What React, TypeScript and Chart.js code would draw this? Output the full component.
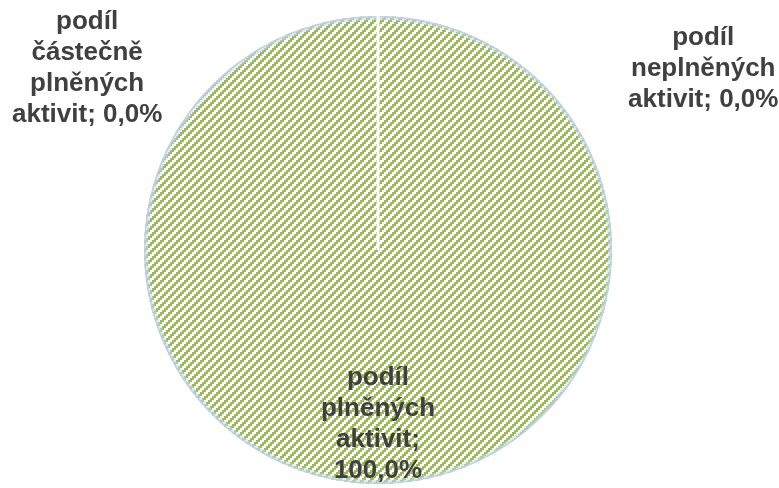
import React, { useEffect, useRef } from "react";
import { Chart, registerables } from "chart.js";

Chart.register(...registerables);

const categories = [
  "podíl plněných aktivit",
  "podíl částečně plněných aktivit",
  "podíl neplněných aktivit",
];
const values = [100, 0, 0];
const labelLines = [
  ["podíl", "plněných", "aktivit;", "100,0%"],
  ["podíl", "částečně", "plněných", "aktivit; 0,0%"],
  ["podíl", "neplněných", "aktivit; 0,0%"],
];

function makePattern(): CanvasPattern | string {
  const c = document.createElement("canvas");
  c.width = 8;
  c.height = 8;
  const g = c.getContext("2d");
  if (!g) return "#9BBB59";
  g.fillStyle = "#ffffff";
  g.fillRect(0, 0, 8, 8);
  g.fillStyle = "#9BBB59";
  for (let y = 0; y < 8; y++) {
    for (let x = 0; x < 8; x++) {
      if (((x >> 1) + (y >> 1)) % 4 < 2) g.fillRect(x, y, 1, 1);
    }
  }
  const p = g.createPattern(c, "repeat");
  return p || "#9BBB59";
}

const decorPlugin = {
  id: "decor",
  afterDatasetsDraw(chart: any) {
    const meta = chart.getDatasetMeta(0);
    const arc = meta.data[0];
    if (!arc) return;
    const { x, y, outerRadius: r } = arc.getProps(["x", "y", "outerRadius"], true);
    const ctx = chart.ctx;
    ctx.save();
    // outer soft edge
    ctx.strokeStyle = "rgba(200,216,236,0.55)";
    ctx.lineWidth = 4;
    ctx.beginPath();
    ctx.arc(x, y, r - 2, 0, Math.PI * 2);
    ctx.stroke();
    ctx.strokeStyle = "rgba(190,208,230,0.9)";
    ctx.lineWidth = 1.5;
    ctx.beginPath();
    ctx.arc(x, y, r - 0.75, 0, Math.PI * 2);
    ctx.stroke();
    // separator line at start angle
    ctx.strokeStyle = "#ffffff";
    ctx.lineWidth = 3;
    ctx.beginPath();
    ctx.moveTo(x, y);
    ctx.lineTo(x, y - r - 1);
    ctx.stroke();

    // labels
    ctx.font = "bold 26px 'Liberation Sans', Arial, sans-serif";
    ctx.fillStyle = "#404040";
    ctx.textAlign = "center";
    ctx.textBaseline = "middle";
    const lh = 31;
    const anchors = [
      { dx: 0, dy: 0.745 },
      { dx: -1.243, dy: -0.775 },
      { dx: 1.39, dy: -0.775 },
    ];
    labelLines.forEach((lines, i) => {
      const a = anchors[i];
      const cx = x + a.dx * r;
      const cy = y + a.dy * r;
      const top = cy - ((lines.length - 1) * lh) / 2;
      lines.forEach((t, j) => ctx.fillText(t, cx, top + j * lh));
    });
    ctx.restore();
  },
};

export default function App() {
  const ref = useRef<HTMLCanvasElement>(null);
  useEffect(() => {
    document.body.style.margin = "0";
    if (!ref.current) return;
    const pattern = makePattern();
    const chart = new Chart(ref.current, {
      type: "pie",
      data: {
        labels: categories,
        datasets: [
          {
            data: values,
            backgroundColor: [pattern, pattern, pattern],
            borderWidth: 0,
          },
        ],
      },
      options: {
        animation: false,
        responsive: false,
        layout: { padding: { top: 16, bottom: 4, left: 0, right: 23 } },
        plugins: {
          legend: { display: false },
          tooltip: { enabled: false },
        },
      },
      plugins: [decorPlugin],
    });
    return () => chart.destroy();
  }, []);
  return (
    <div style={{ width: 779, height: 488, position: "relative", background: "#fff" }}>
      <canvas ref={ref} width={779} height={488} style={{ display: "block" }} />
    </div>
  );
}
